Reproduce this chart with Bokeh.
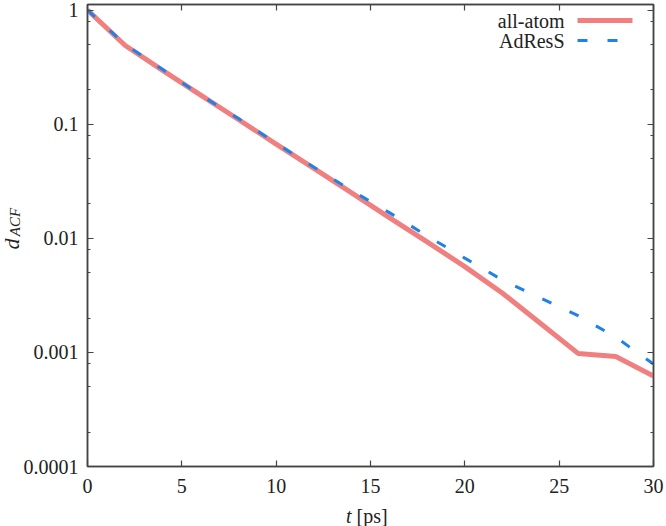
import math
from bokeh.plotting import figure
from bokeh.models import FixedTicker, LinearAxis, LogAxis, Label, Arrow, Range1d, Div
from bokeh.layouts import row, column
from bokeh.embed import file_html
from bokeh.resources import INLINE

# ---- data ----
t = [0, 2, 4, 6, 8, 10, 12, 14, 16, 18, 20, 22, 24, 26, 28, 30]
all_atom = [1.0, 0.49, 0.295, 0.18, 0.11, 0.067, 0.041, 0.025, 0.0152, 0.0093,
            0.00565, 0.0033, 0.0018, 0.00098, 0.00092, 0.00062]
adress = [1.0, 0.5, 0.3, 0.18, 0.112, 0.068, 0.042, 0.0262, 0.0168, 0.0105,
          0.0067, 0.0043, 0.003, 0.0021, 0.00136, 0.00079]
series_names = ["all-atom", "AdResS"]
x_ticks = [0, 5, 10, 15, 20, 25, 30]
y_ticks = [0.0001, 0.001, 0.01, 0.1, 1]
y_tick_labels = ["0.0001", "0.001", "0.01", "0.1", "1"]
y_minor = [m * 10.0 ** e for e in range(-4, 0) for m in (2, 5, 8)]

FONT = "Liberation Serif"
AX = "#444444"
TXT = "#222222"
RED = "#F08080"
BLUE = "#1E82E6"

YDIV_W = 20
p = figure(width=666 - YDIV_W, height=500, x_range=Range1d(0, 30), y_range=Range1d(1e-4, 1.12),
           y_axis_type="log", output_backend="svg", toolbar_location=None,
           min_border_left=65, min_border_right=13, min_border_top=4, min_border_bottom=34,
           margin=0)

p.add_layout(LinearAxis(), "above")
p.add_layout(LogAxis(), "right")

p.xgrid.visible = False
p.ygrid.visible = False
p.outline_line_color = AX
p.outline_line_width = 1.5
p.background_fill_color = "white"
p.border_fill_color = "white"

for ax in p.xaxis:
    ax.ticker = FixedTicker(ticks=x_ticks)
for ax in p.yaxis:
    ax.ticker = FixedTicker(ticks=y_ticks, minor_ticks=y_minor)
    ax.major_label_overrides = dict(zip(y_ticks, y_tick_labels))

for ax in list(p.xaxis) + list(p.yaxis):
    ax.axis_line_color = AX
    ax.axis_line_width = 1.5
    ax.major_tick_in = 6
    ax.major_tick_out = 0
    ax.minor_tick_in = 3
    ax.minor_tick_out = 0
    ax.major_tick_line_color = AX
    ax.minor_tick_line_color = AX
    ax.major_tick_line_width = 1.2
    ax.minor_tick_line_width = 1.2
    ax.major_label_text_font = FONT
    ax.major_label_text_font_size = "20px"
    ax.major_label_text_color = TXT

# mirrored axes: ticks only
p.xaxis[0].major_label_standoff = 0
p.xaxis[0].major_label_text_font_size = "0px"
p.yaxis[1].major_label_standoff = 0
p.yaxis[1].major_label_text_font_size = "0px"
p.xaxis[1].major_label_standoff = 12
p.yaxis[0].major_label_standoff = 9

p.line(t, all_atom, line_color=RED, line_width=5, line_join="round")
p.line(t, adress, line_color=BLUE, line_width=3, line_dash="10 20")

# legend (gnuplot style: text left, sample right)
for i, (name, col, lw, dash, x_end) in enumerate([(series_names[0], RED, 5, "solid", 545),
                                                   (series_names[1], BLUE, 3, "10 20", 540)]):
    yy = 446 - 20 * i
    p.add_layout(Label(x=477, y=yy, x_units="screen", y_units="screen", text=name,
                       text_align="right", text_baseline="middle", text_font=FONT,
                       text_font_size="20px", text_color=TXT))
    p.add_layout(Arrow(x_start=490, y_start=yy, x_end=x_end, y_end=yy,
                       start_units="screen", end_units="screen", start=None, end=None,
                       line_color=col, line_width=lw, line_dash=dash))

# axis titles as HTML text beside / below the plot
span = ("position:absolute; white-space:nowrap; font-family:'Liberation Serif'; "
        "color:%s; line-height:1; " % TXT)
ytitle = Div(width=YDIV_W, height=526, margin=0, text=(
    '<div style="position:relative; width:%dpx; height:526px;">'
    '<span style="%s left:12px; top:244px; font-size:22px; font-style:italic; '
    'transform:translate(-50%%,-50%%) rotate(-90deg);">d</span>'
    '<span style="%s left:15px; top:222px; font-size:15px; font-style:italic; '
    'transform:translate(-50%%,-50%%) rotate(-90deg);">ACF</span>'
    '</div>') % (YDIV_W, span, span))
xtitle = Div(width=666 - YDIV_W, height=26, margin=0, text=(
    '<div style="position:relative; width:%dpx; height:26px;">'
    '<span style="%s left:%dpx; top:6px; font-size:20px;"><i>t</i>&nbsp;[ps]</span>'
    '</div>') % (666 - YDIV_W, span, 346 - YDIV_W))

layout = row(ytitle, column(p, xtitle, spacing=0), spacing=0)
open("out.html", "w").write(file_html(layout, INLINE))
